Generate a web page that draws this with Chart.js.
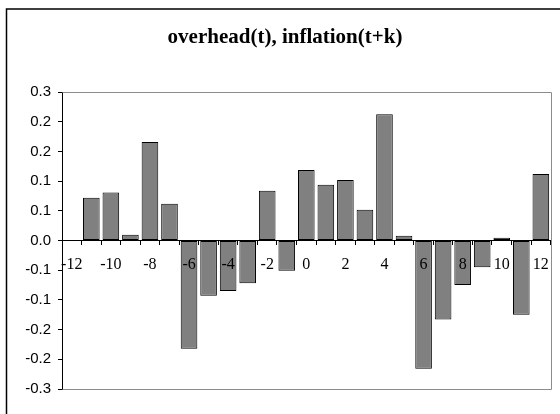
<!DOCTYPE html>
<html>
<head>
<meta charset="utf-8">
<script src="https://cdn.jsdelivr.net/npm/chart.js@4.4.1/dist/chart.umd.min.js"></script>
<style>
  html, body { margin: 0; padding: 0; background: #fff; }
  #wrap { width: 560px; height: 414px; position: relative; }
</style>
</head>
<body>
<div id="wrap"><canvas id="c" width="560" height="414"></canvas></div>
<script>
// Lag k between overhead(t) and inflation(t+k)
const lags = [-12, -11, -10, -9, -8, -7, -6, -5, -4, -3, -2, -1, 0, 1, 2, 3, 4, 5, 6, 7, 8, 9, 10, 11, 12];
// Correlation at each lag
const correlations = [0, 0.072, 0.081, 0.010, 0.166, 0.062, -0.182, -0.093, -0.085, -0.072, 0.084, -0.051,
                      0.119, 0.094, 0.102, 0.052, 0.213, 0.008, -0.216, -0.133, -0.075, -0.045, 0.005, -0.125, 0.112];
// Value axis range and step
const yMin = -0.25;
const yMax = 0.25;
const yStep = 0.05;

// One-decimal labels, rounding halves away from zero
function oneDecimal(v) {
  const s = v < 0 ? -1 : 1;
  const r = s * Math.round(Math.abs(v) * 10 + 1e-9) / 10;
  return (r === 0 ? 0 : r).toFixed(1);
}

// Outer frame and the grey plot-area box
const frames = {
  id: 'frames',
  beforeDraw(chart) {
    const ctx = chart.ctx;
    ctx.save();
    ctx.strokeStyle = '#000';
    ctx.lineWidth = 1.5;
    ctx.beginPath();
    ctx.moveTo(6.5, 420);
    ctx.lineTo(6.5, 9);
    ctx.lineTo(570, 9);
    ctx.stroke();
    ctx.restore();
  },
  afterDraw(chart) {
    const { left, right, top, bottom } = chart.chartArea;
    const ctx = chart.ctx;
    ctx.save();
    ctx.strokeStyle = '#8c8c8c';
    ctx.lineWidth = 1;
    ctx.beginPath();
    ctx.moveTo(Math.round(left) + 0.5, Math.round(top) + 0.5);
    ctx.lineTo(Math.round(right) + 0.5, Math.round(top) + 0.5);
    ctx.lineTo(Math.round(right) + 0.5, Math.round(bottom) + 0.5);
    ctx.lineTo(Math.round(left) + 0.5, Math.round(bottom) + 0.5);
    ctx.stroke();
    ctx.restore();
  }
};

Chart.defaults.color = '#000';

new Chart(document.getElementById('c'), {
  type: 'bar',
  data: {
    labels: lags,
    datasets: [{
      data: correlations,
      backgroundColor: '#808080',
      borderColor: '#000',
      borderWidth: 1,
      borderSkipped: false,
      barPercentage: 0.85,
      categoryPercentage: 1.0
    }]
  },
  options: {
    responsive: false,
    animation: false,
    devicePixelRatio: 1,
    layout: { padding: { left: 18, right: 8, top: 0, bottom: 25 } },
    plugins: {
      legend: { display: false },
      tooltip: { enabled: false },
      title: {
        display: true,
        text: 'overhead(t), inflation(t+k)',
        font: { family: 'Liberation Serif', size: 21, weight: 'bold' },
        color: '#000',
        padding: { top: 25, bottom: 42 }
      }
    },
    scales: {
      x: {
        position: { y: 0 },
        grid: {
          display: true,
          drawOnChartArea: false,
          drawTicks: true,
          tickLength: 4,
          color: '#000',
          offset: true,
          z: 1
        },
        border: { display: true, color: '#000', width: 1, z: 1 },
        ticks: {
          z: 1,
          autoSkip: false,
          maxRotation: 0,
          padding: 11,
          font: { family: 'Liberation Serif', size: 16 },
          callback(value, index) {
            const k = lags[index];
            return k % 2 === 0 ? String(k) : '';
          }
        }
      },
      y: {
        min: yMin,
        max: yMax,
        afterFit(scale) { scale.width = 44; },
        grid: {
          display: true,
          drawOnChartArea: false,
          drawTicks: true,
          tickLength: 4,
          color: '#000'
        },
        border: { display: true, color: '#000', width: 1 },
        ticks: {
          stepSize: yStep,
          padding: 7,
          font: { family: 'Liberation Sans', size: 15 },
          callback(value) { return oneDecimal(value); }
        }
      }
    }
  },
  plugins: [frames]
});
</script>
</body>
</html>
